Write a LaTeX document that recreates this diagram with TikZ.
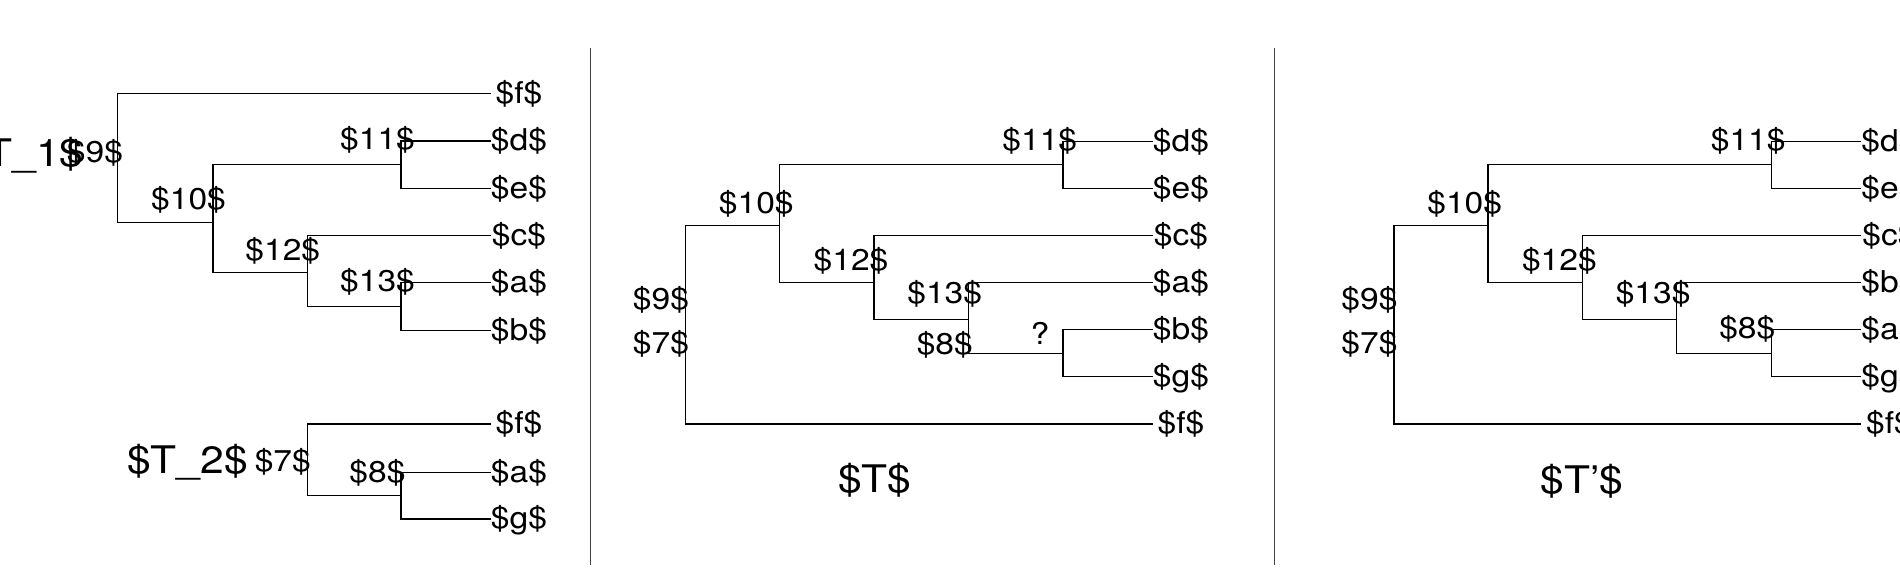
\documentclass[tikz,border=0pt]{standalone}
\usepackage{fontspec}
\setmainfont{TeX Gyre Heros}[FakeStretch=1.12]
\usepackage{tikz}
\newcommand\lblfont{\fontsize{30}{30}\selectfont}
\newcommand\ttlfont{\fontsize{38}{38}\selectfont}

\begin{document}
\begin{tikzpicture}[
  x=1pt, y=-1pt,
  br/.style={draw, line width=1.2pt},
  lbl/.style={inner sep=0pt, outer sep=0pt, font=\lblfont, text height=23.25pt, text depth=3.45pt},
  leaf/.style={lbl, minimum width=56pt},
  ttl/.style={inner sep=0pt, outer sep=0pt, font=\ttlfont, text height=29.45pt, text depth=4.37pt},
  sep/.style={draw=black!75, line width=1pt},
]
\useasboundingbox (0,0) rectangle (1900,569);
\clip (0,0) rectangle (1900,569);

% T_1
\coordinate (a9) at (117.5,158);
\coordinate (a10) at (213,222.7);
\coordinate (a11) at (401,164.7);
\coordinate (a12) at (307.8,272.5);
\coordinate (a13) at (401,306.5);
\node[leaf] (af) at (519,93.5) {\$f\$};
\node[leaf] (ad) at (519,141) {\$d\$};
\node[leaf] (ae) at (519,188.3) {\$e\$};
\node[leaf] (ac) at (519,235.6) {\$c\$};
\node[leaf] (aa) at (519,282.9) {\$a\$};
\node[leaf] (ab) at (519,330.2) {\$b\$};
\draw[br] (a9) |- (af.west) (a9) |- (a10)
  (a10) |- (a11) (a10) |- (a12)
  (a11) |- (ad.west) (a11) |- (ae.west)
  (a12) |- (ac.west) (a12) |- (a13)
  (a13) |- (aa.west) (a13) |- (ab.west);
\node[ttl] (t1) at (23,154) {\$T\_1\$};
\node[lbl] (a9l) at (95,152.5) {\$9\$};
\node[lbl] (a10l) at (188.5,200) {\$10\$};
\node[lbl] (a11l) at (377.5,139.7) {\$11\$};
\node[lbl] (a12l) at (282.8,250.3) {\$12\$};
\node[lbl] (a13l) at (377.5,282) {\$13\$};

% T_2
\coordinate (b7) at (307.5,460);
\coordinate (b8) at (401,495.7);
\node[leaf] (bf) at (519,424) {\$f\$};
\node[leaf] (ba) at (519,472.3) {\$a\$};
\node[leaf] (bg) at (519,519) {\$g\$};
\draw[br] (b7) |- (bf.west) (b7) |- (b8)
  (b8) |- (ba.west) (b8) |- (bg.west);
\node[ttl] (t2) at (187.5,461) {\$T\_2\$};
\node[lbl] (b7l) at (282.8,461.7) {\$7\$};
\node[lbl] (b8l) at (377.5,472.3) {\$8\$};

\draw[sep] (590,48.4) -- (590,565.4);

% T
\coordinate (m9) at (685.5,320);
\coordinate (m10) at (779.5,225.7);
\coordinate (m11) at (1063,164.8);
\coordinate (m12) at (874,282.7);
\coordinate (m13) at (968.3,319.3);
\coordinate (mq) at (1063,353.3);
\node[leaf] (md) at (1181,141.3) {\$d\$};
\node[leaf] (me) at (1181,188.4) {\$e\$};
\node[leaf] (mc) at (1181,235.5) {\$c\$};
\node[leaf] (ma) at (1181,282.6) {\$a\$};
\node[leaf] (mb) at (1181,329.7) {\$b\$};
\node[leaf] (mg) at (1181,376.8) {\$g\$};
\node[leaf] (mf) at (1181,423.9) {\$f\$};
\draw[br] (m9) |- (m10) (m9) |- (mf.west)
  (m10) |- (m11) (m10) |- (m12)
  (m11) |- (md.west) (m11) |- (me.west)
  (m12) |- (mc.west) (m12) |- (m13)
  (m13) |- (ma.west) (m13) |- (mq)
  (mq) |- (mb.west) (mq) |- (mg.west);
\node[lbl] (m9l) at (661,300) {\$9\$};
\node[lbl] (m7l) at (661,343.3) {\$7\$};
\node[lbl] (m10l) at (756.3,203.3) {\$10\$};
\node[lbl] (m11l) at (1039.8,140.8) {\$11\$};
\node[lbl] (m12l) at (851,260.8) {\$12\$};
\node[lbl] (m13l) at (944.7,293.3) {\$13\$};
\node[lbl] (m8l) at (944.8,345) {\$8\$};
\node[lbl] (mql) at (1040,335) {?};
\node[ttl] (t) at (874.8,480) {\$T\$};

\draw[sep] (1274.7,48.4) -- (1274.7,565.4);

% T'
\coordinate (r9) at (1393.9,320);
\coordinate (r10) at (1487.9,225.7);
\coordinate (r11) at (1771.4,164.8);
\coordinate (r12) at (1582.4,282.7);
\coordinate (r13) at (1676.7,319.3);
\coordinate (r8) at (1771.4,353.3);
\node[leaf] (rd) at (1889.4,141.3) {\$d\$};
\node[leaf] (re) at (1889.4,188.4) {\$e\$};
\node[leaf] (rc) at (1889.4,235.5) {\$c\$};
\node[leaf] (rb) at (1889.4,282.6) {\$b\$};
\node[leaf] (ra) at (1889.4,329.7) {\$a\$};
\node[leaf] (rg) at (1889.4,376.8) {\$g\$};
\node[leaf] (rf) at (1889.4,423.9) {\$f\$};
\draw[br] (r9) |- (r10) (r9) |- (rf.west)
  (r10) |- (r11) (r10) |- (r12)
  (r11) |- (rd.west) (r11) |- (re.west)
  (r12) |- (rc.west) (r12) |- (r13)
  (r13) |- (rb.west) (r13) |- (r8)
  (r8) |- (ra.west) (r8) |- (rg.west);
\node[lbl] (r9l) at (1369.4,300) {\$9\$};
\node[lbl] (r7l) at (1369.4,343.3) {\$7\$};
\node[lbl] (r10l) at (1464.7,203.3) {\$10\$};
\node[lbl] (r11l) at (1748.2,140.8) {\$11\$};
\node[lbl] (r12l) at (1559.4,260.8) {\$12\$};
\node[lbl] (r13l) at (1653.1,293.3) {\$13\$};
\node[lbl] (r8l) at (1747.3,329) {\$8\$};
\node[ttl] (tp) at (1582,481) {\$T'\$};
\end{tikzpicture}
\end{document}
